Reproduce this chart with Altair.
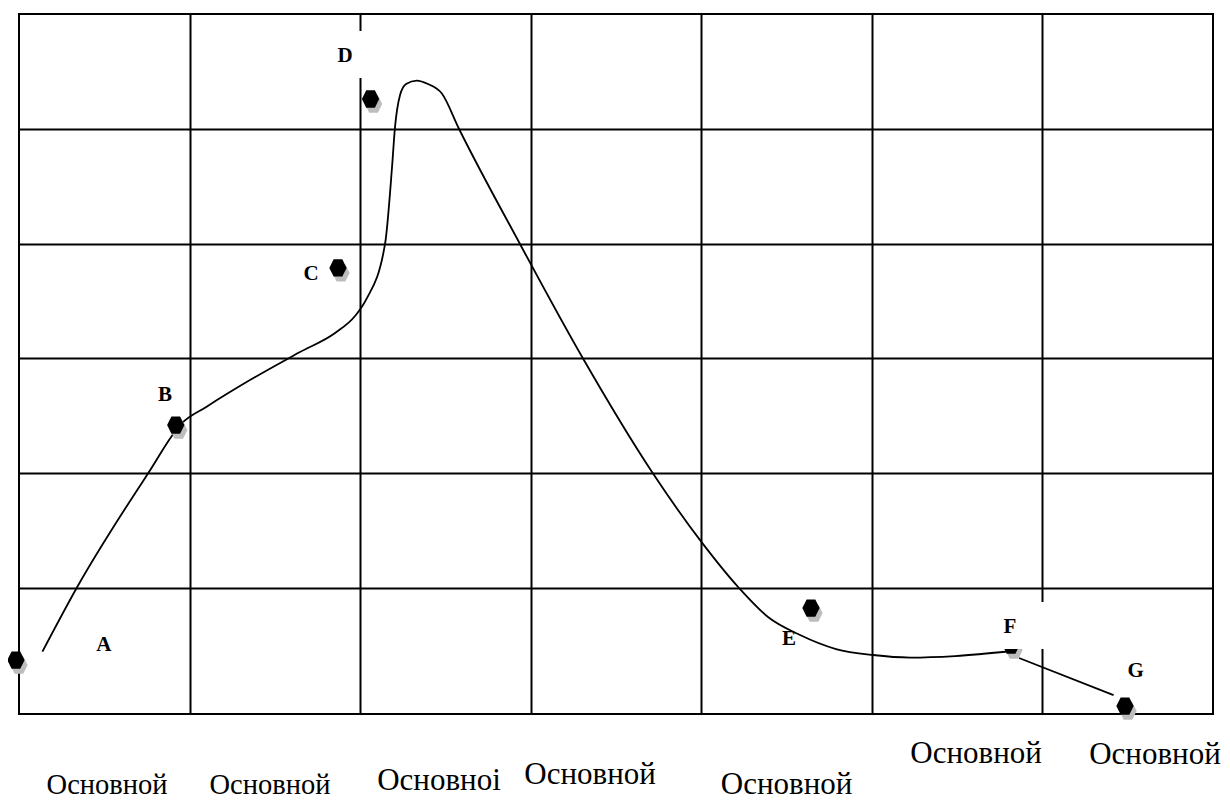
import altair as alt
import pandas as pd

# ---- scales / grid ----
x_domain = [0, 7]
y_domain = [-0.1, 6]
x_grid = [1, 2, 3, 4, 5, 6]
y_grid = [1, 2, 3, 4, 5]

# ---- points ----
point_names = ["A", "B", "C", "D", "E", "F", "G"]
point_x = [-0.018, 0.919, 1.870, 2.061, 4.643, 5.816, 6.484]
point_y = [0.370, 2.418, 3.787, 5.259, 0.823, 0.501, -0.031]
label_x = [0.498, 0.856, 1.712, 1.911, 4.514, 5.810, 6.546]
label_y = [0.501, 2.680, 3.734, 5.634, 0.553, 0.658, 0.275]
masked_labels = ["D", "F"]

# ---- curve (two pieces) ----
curve_seg = [1] * 31 + [2] * 2
curve_x = [0.137, 0.338, 0.758, 0.954, 1.100, 1.354, 1.647, 1.853, 1.970, 2.034,
           2.146, 2.187, 2.204, 2.234, 2.269, 2.332, 2.398, 2.478, 2.580, 2.937,
           3.305, 3.715, 4.004, 4.221, 4.391, 4.579, 4.790, 5.007, 5.224, 5.488,
           5.822,
           5.863, 6.417]
curve_y = [0.443, 0.998, 2.000, 2.433, 2.578, 2.810, 3.054, 3.220, 3.368, 3.508,
           3.996, 4.667, 5.007, 5.294, 5.390, 5.420, 5.390, 5.309, 4.998, 3.996,
           3.002, 2.000, 1.393, 0.998, 0.745, 0.588, 0.466, 0.414, 0.392, 0.405,
           0.449,
           0.388, 0.065]

# ---- bottom category labels ----
axis_labels = ["Основной", "Основной", "Основноі", "Основной", "Основной", "Основной", "Основной"]
axis_label_x = [0.516, 1.4715, 2.462, 3.348, 4.500, 5.611, 6.660]
axis_label_y = [-0.797, -0.797, -0.763, -0.710, -0.793, -0.525, -0.539]
axis_label_group = ["small", "small", "big", "big", "big", "big", "big"]

points_df = pd.DataFrame({"name": point_names, "px": point_x, "py": point_y,
                          "lx": label_x, "ly": label_y})
curve_df = pd.DataFrame({"seg": curve_seg, "cx": curve_x, "cy": curve_y})
axis_df = pd.DataFrame({"t": axis_labels, "ax": axis_label_x, "ay": axis_label_y,
                        "g": axis_label_group})

x_scale = alt.Scale(domain=x_domain, nice=False, zero=False)
y_scale = alt.Scale(domain=y_domain, nice=False, zero=False)
x_axis = alt.Axis(values=x_grid, grid=True, labels=False, ticks=False, domain=False,
                  title=None, gridColor="black", gridWidth=2, gridOpacity=1)
y_axis = alt.Axis(values=y_grid, grid=True, labels=False, ticks=False, domain=False,
                  title=None, gridColor="black", gridWidth=2, gridOpacity=1)


def X(f):
    return alt.X(f, type="quantitative", scale=x_scale, axis=x_axis)


def Y(f):
    return alt.Y(f, type="quantitative", scale=y_scale, axis=y_axis)


hexagon = "M-1,0L-0.5,-1L0.5,-1L1,0L0.5,1L-0.5,1Z"

curve = alt.Chart(curve_df).mark_line(
    color="black", strokeWidth=1.8, interpolate="monotone"
).encode(x=X("cx"), y=Y("cy"), detail="seg:N", order="cx:Q")

shadow = alt.Chart(points_df).mark_point(
    shape=hexagon, filled=True, color="#bdbdbd", size=300, opacity=1,
    xOffset=3, yOffset=5
).encode(x=X("px"), y=Y("py"))

marker = alt.Chart(points_df).mark_point(
    shape=hexagon, filled=True, color="black", size=300, opacity=1
).encode(x=X("px"), y=Y("py"))

masks = alt.Chart(points_df).transform_filter(
    alt.FieldOneOfPredicate(field="name", oneOf=masked_labels)
).mark_rect(
    color="white", xOffset=-20, x2Offset=35, yOffset=-25, y2Offset=22
).encode(x=X("lx"), x2="lx", y=Y("ly"), y2="ly")

labels = alt.Chart(points_df).mark_text(
    font="Liberation Serif", fontSize=21, fontWeight="bold", color="black",
    align="center", baseline="middle"
).encode(x=X("lx"), y=Y("ly"), text="name:N")

cat_small = alt.Chart(axis_df).transform_filter(alt.datum.g == "small").mark_text(
    font="Liberation Serif", fontSize=28.5, color="black",
    align="center", baseline="alphabetic"
).encode(x=X("ax"), y=Y("ay"), text="t:N")

cat_big = alt.Chart(axis_df).transform_filter(alt.datum.g == "big").mark_text(
    font="Liberation Serif", fontSize=31, color="black",
    align="center", baseline="alphabetic"
).encode(x=X("ax"), y=Y("ay"), text="t:N")

chart = alt.layer(curve, shadow, marker, masks, labels, cat_small, cat_big).properties(
    width=1194, height=700,
    autosize=alt.AutoSizeParams(type="none"),
    padding={"left": 11, "top": 6, "right": 9, "bottom": 87},
    background="white",
).configure_view(stroke="black", strokeWidth=2)

chart.save("out.html", embed_options={"renderer": "svg", "actions": False})
